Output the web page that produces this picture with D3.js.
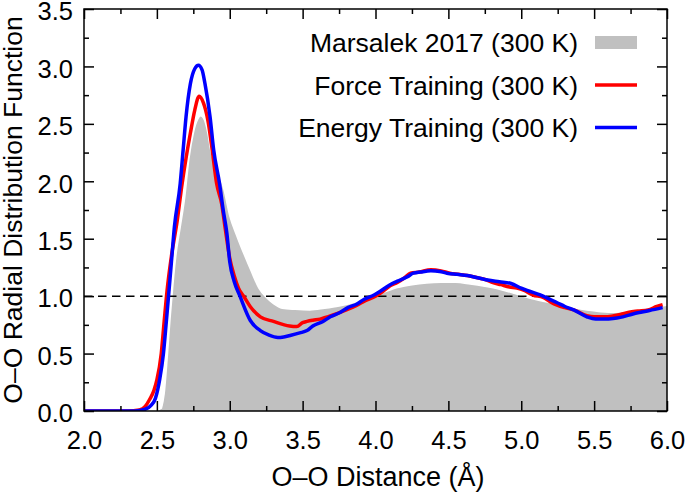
<!DOCTYPE html>
<html>
<head>
<meta charset="utf-8">
<script src="https://cdn.jsdelivr.net/npm/d3@7"></script>
<style>
  html, body { margin: 0; padding: 0; background: #fff; }
  svg { display: block; }
  text { font-family: "Liberation Sans", Arial, Helvetica, sans-serif; fill: #000; }
</style>
</head>
<body>
<svg id="chart" width="685" height="496"></svg>
<script>
// ---------------- data ----------------
const seriesNames = ["Marsalek 2017 (300 K)", "Force Training (300 K)", "Energy Training (300 K)"];

const marsalekR = [2.0, 2.5, 2.53, 2.55, 2.57, 2.59, 2.61, 2.63, 2.66, 2.69, 2.72, 2.75, 2.78, 2.8, 2.82, 2.85, 2.87, 2.9, 2.93, 2.96, 3.0, 3.05, 3.1, 3.15, 3.2, 3.25, 3.3, 3.36, 3.45, 3.55, 3.65, 3.75, 3.85, 3.95, 4.05, 4.15, 4.25, 4.35, 4.45, 4.55, 4.65, 4.75, 4.85, 4.95, 5.05, 5.15, 5.25, 5.35, 5.45, 5.55, 5.65, 5.75, 5.85, 5.95, 6.0];
const marsalekG = [0, 0, 0.02, 0.15, 0.45, 0.8, 1.1, 1.35, 1.6, 1.85, 2.2, 2.42, 2.54, 2.57, 2.55, 2.42, 2.27, 2.15, 2.05, 1.93, 1.7, 1.52, 1.36, 1.21, 1.07, 0.99, 0.935, 0.895, 0.885, 0.88, 0.895, 0.915, 0.945, 0.985, 1.03, 1.075, 1.1, 1.115, 1.12, 1.12, 1.105, 1.085, 1.06, 1.025, 0.985, 0.955, 0.93, 0.9, 0.88, 0.865, 0.86, 0.87, 0.89, 0.91, 0.92];

const forceR = [2.0, 2.3, 2.38, 2.42, 2.45, 2.48, 2.5, 2.53, 2.55, 2.57, 2.6, 2.64, 2.67, 2.7, 2.73, 2.76, 2.79, 2.82, 2.85, 2.88, 2.91, 2.945, 2.97, 3.0, 3.03, 3.06, 3.1, 3.14, 3.21, 3.3, 3.41, 3.46, 3.5, 3.53, 3.57, 3.62, 3.67, 3.74, 3.8, 3.87, 3.93, 4.0, 4.05, 4.1, 4.15, 4.2, 4.24, 4.3, 4.38, 4.45, 4.51, 4.57, 4.63, 4.7, 4.74, 4.8, 4.86, 4.92, 4.97, 5.02, 5.08, 5.15, 5.2, 5.25, 5.3, 5.36, 5.45, 5.5, 5.57, 5.62, 5.68, 5.74, 5.8, 5.87, 5.93, 5.97];
const forceG = [0, 0, 0.01, 0.04, 0.1, 0.18, 0.27, 0.5, 0.78, 1.05, 1.35, 1.66, 1.95, 2.2, 2.42, 2.62, 2.74, 2.68, 2.53, 2.27, 1.98, 1.8, 1.58, 1.33, 1.18, 1.07, 0.99, 0.91, 0.82, 0.78, 0.74, 0.735, 0.77, 0.78, 0.79, 0.8, 0.82, 0.85, 0.88, 0.92, 0.96, 1.0, 1.04, 1.09, 1.12, 1.16, 1.2, 1.21, 1.23, 1.22, 1.2, 1.19, 1.18, 1.16, 1.15, 1.12, 1.1, 1.08, 1.07, 1.05, 1.01, 0.99, 0.95, 0.92, 0.9, 0.88, 0.83, 0.82, 0.82, 0.825, 0.84, 0.86, 0.87, 0.88, 0.91, 0.925];

const energyR = [2.0, 2.35, 2.42, 2.46, 2.49, 2.52, 2.545, 2.565, 2.58, 2.6, 2.62, 2.66, 2.68, 2.7, 2.73, 2.76, 2.785, 2.81, 2.83, 2.865, 2.89, 2.93, 2.955, 2.98, 3.0, 3.03, 3.07, 3.14, 3.21, 3.27, 3.33, 3.37, 3.42, 3.48, 3.53, 3.57, 3.64, 3.69, 3.76, 3.81, 3.87, 3.92, 3.99, 4.03, 4.1, 4.15, 4.22, 4.26, 4.31, 4.38, 4.44, 4.49, 4.56, 4.63, 4.7, 4.77, 4.85, 4.93, 5.0, 5.04, 5.13, 5.2, 5.25, 5.3, 5.36, 5.45, 5.51, 5.57, 5.63, 5.68, 5.74, 5.8, 5.88, 5.97];
const energyG = [0, 0, 0.015, 0.05, 0.11, 0.28, 0.5, 0.78, 1.0, 1.3, 1.6, 1.98, 2.27, 2.56, 2.85, 2.98, 3.01, 2.97, 2.85, 2.56, 2.27, 1.98, 1.75, 1.55, 1.3, 1.13, 1.0, 0.79, 0.7, 0.66, 0.64, 0.645, 0.66, 0.68, 0.7, 0.74, 0.78, 0.82, 0.86, 0.9, 0.93, 0.97, 1.01, 1.04, 1.1, 1.13, 1.17, 1.2, 1.21, 1.22, 1.215, 1.2, 1.19, 1.18, 1.16, 1.14, 1.125, 1.11, 1.07, 1.05, 1.01, 0.97, 0.94, 0.91, 0.88, 0.82, 0.8, 0.8, 0.805, 0.815, 0.835, 0.855, 0.875, 0.9];

const xTickValues = [2.0, 2.5, 3.0, 3.5, 4.0, 4.5, 5.0, 5.5, 6.0];
const xMinorValues = [2.25, 2.75, 3.25, 3.75, 4.25, 4.75, 5.25, 5.75];
const yTickValues = [0.0, 0.5, 1.0, 1.5, 2.0, 2.5, 3.0, 3.5];
const yMinorValues = [0.25, 0.75, 1.25, 1.75, 2.25, 2.75, 3.25];
const referenceLevel = [1.0];

const xTitle = "O\u2013O Distance (\u00C5)";
const yTitle = "O\u2013O Radial Distribution Function";

// ---------------- layout ----------------
const plot = { left: 84, right: 667, top: 9, bottom: 411 };
const svg = d3.select("#chart");

const x = d3.scaleLinear().domain([2.0, 6.0]).range([plot.left, plot.right]);
const y = d3.scaleLinear().domain([0, 3.5]).range([plot.bottom, plot.top]);

const zipPts = (rs, gs) => rs.map((r, i) => [r, gs[i]]);
const marsalek = zipPts(marsalekR, marsalekG);
const force = zipPts(forceR, forceG);
const energy = zipPts(energyR, energyG);

svg.append("defs").append("clipPath").attr("id", "clip")
  .append("rect").attr("x", plot.left).attr("y", plot.top)
  .attr("width", plot.right - plot.left).attr("height", plot.bottom - plot.top);

const g = svg.append("g").attr("clip-path", "url(#clip)");

// gray area
const area = d3.area().x(d => x(d[0])).y0(y(0)).y1(d => y(d[1])).curve(d3.curveMonotoneX);
g.append("path").datum(marsalek).attr("d", area).attr("fill", "#c0c0c0");
const topLine = d3.line().x(d => x(d[0])).y(d => y(d[1])).curve(d3.curveMonotoneX);
g.append("path").datum(marsalek.filter(d => d[0] > 2.52)).attr("d", topLine)
  .attr("fill", "none").attr("stroke", "#fff").attr("stroke-width", 1.5);

// dashed reference line
g.selectAll("line.ref").data(referenceLevel).enter().append("line")
  .attr("x1", plot.left).attr("x2", plot.right)
  .attr("y1", d => y(d)).attr("y2", d => y(d))
  .attr("stroke", "#000").attr("stroke-width", 1.5).attr("stroke-dasharray", "8.5,5.5");

// lines
const line = d3.line().x(d => x(d[0])).y(d => y(d[1])).curve(d3.curveMonotoneX);
[[force, "#ff0000"], [energy, "#0000ff"]].forEach(([data, col]) => {
  g.append("path").datum(data).attr("d", line).attr("fill", "none")
    .attr("stroke", col).attr("stroke-width", 3.5).attr("stroke-linejoin", "round");
});

// axes (ticks inward)
function styleAxis(sel) {
  sel.select(".domain").remove();
  sel.selectAll(".tick line").attr("stroke", "#000").attr("stroke-width", 1.5);
}
const fs = 25.5;
const bottomAxis = svg.append("g").attr("transform", `translate(0,${plot.bottom})`)
  .call(d3.axisBottom(x).tickValues(xTickValues).tickSize(-10).tickPadding(30).tickFormat(d3.format(".1f")));
styleAxis(bottomAxis);
bottomAxis.selectAll("text").attr("font-size", fs).attr("font-family", "Liberation Sans, Arial, sans-serif").attr("y", 20);

const bottomMinor = svg.append("g").attr("transform", `translate(0,${plot.bottom})`)
  .call(d3.axisBottom(x).tickValues(xMinorValues).tickSize(-5).tickFormat(""));
styleAxis(bottomMinor);

const topAxis = svg.append("g").attr("transform", `translate(0,${plot.top})`)
  .call(d3.axisTop(x).tickValues(xTickValues).tickSize(-10).tickFormat(""));
styleAxis(topAxis);
const topMinor = svg.append("g").attr("transform", `translate(0,${plot.top})`)
  .call(d3.axisTop(x).tickValues(xMinorValues).tickSize(-5).tickFormat(""));
styleAxis(topMinor);

const leftAxis = svg.append("g").attr("transform", `translate(${plot.left},0)`)
  .call(d3.axisLeft(y).tickValues(yTickValues).tickSize(-10).tickFormat(d3.format(".1f")));
styleAxis(leftAxis);
leftAxis.selectAll("text").attr("font-size", fs).attr("font-family", "Liberation Sans, Arial, sans-serif").attr("x", -11).attr("dy", "0.42em");

const leftMinor = svg.append("g").attr("transform", `translate(${plot.left},0)`)
  .call(d3.axisLeft(y).tickValues(yMinorValues).tickSize(-5).tickFormat(""));
styleAxis(leftMinor);

const rightAxis = svg.append("g").attr("transform", `translate(${plot.right},0)`)
  .call(d3.axisRight(y).tickValues(yTickValues).tickSize(-10).tickFormat(""));
styleAxis(rightAxis);
const rightMinor = svg.append("g").attr("transform", `translate(${plot.right},0)`)
  .call(d3.axisRight(y).tickValues(yMinorValues).tickSize(-5).tickFormat(""));
styleAxis(rightMinor);

// frame
svg.append("rect").attr("x", plot.left).attr("y", plot.top)
  .attr("width", plot.right - plot.left).attr("height", plot.bottom - plot.top)
  .attr("fill", "none").attr("stroke", "#000").attr("stroke-width", 1.5);

// axis titles
svg.append("text").attr("x", 378).attr("y", 486).attr("text-anchor", "middle")
  .attr("font-size", 27).text(xTitle);
svg.append("text").attr("transform", `translate(22,${(plot.top + plot.bottom) / 2}) rotate(-90)`)
  .attr("text-anchor", "middle").attr("font-size", 26.5).text(yTitle);

// legend
const legendBaselines = [52, 94.5, 137];
const legend = svg.append("g");
seriesNames.forEach((name, i) => {
  legend.append("text").attr("x", 578).attr("y", legendBaselines[i])
    .attr("text-anchor", "end").attr("font-size", 26.5).text(name);
  const cy = legendBaselines[i] - 9.5;
  if (i === 0) {
    legend.append("rect").attr("x", 595).attr("y", cy - 6.5).attr("width", 42).attr("height", 13).attr("fill", "#c0c0c0");
  } else {
    legend.append("line").attr("x1", 595).attr("x2", 637).attr("y1", cy).attr("y2", cy)
      .attr("stroke", i === 1 ? "#ff0000" : "#0000ff").attr("stroke-width", 3.5);
  }
});
</script>
</body>
</html>
